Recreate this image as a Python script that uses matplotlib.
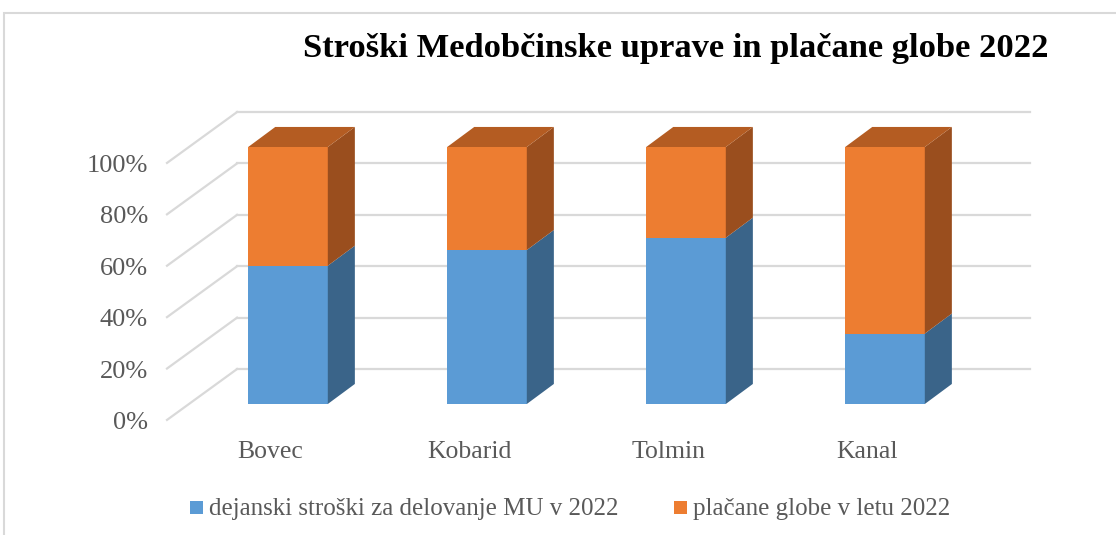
import matplotlib.pyplot as plt
from matplotlib.patches import Polygon, Rectangle

# data (share of total, %)
obcine = ['Bovec', 'Kobarid', 'Tolmin', 'Kanal']
stroski_mu = [53.8, 59.9, 64.7, 27.4]
globe = [46.2, 40.1, 35.3, 72.6]
serije = ['dejanski stroški za delovanje MU v 2022', 'plačane globe v letu 2022']
yticks = [0, 20, 40, 60, 80, 100]

plt.rcParams['font.family'] = ['Liberation Serif', 'DejaVu Serif']

barve = {
    'blue': ('#5B9BD5', '#3A6489', '#41719C'),
    'orange': ('#ED7D31', '#9A4E1E', '#B45C22'),
}
grid_col = '#D9D9D9'
txt_col = '#595959'

fig = plt.figure(figsize=(11.16, 5.35), dpi=100)
ax = fig.add_axes([0, 0, 1, 1])
# one category = 199 px, 100 % = 257 px
ax.set_xlim(-288 / 199, (1116 - 288) / 199)
ax.set_ylim(-131 / 2.57, 404 / 2.57)
ax.axis('off')

bw = 0.40          # bar width (category units)
dx, dy = 0.136, 7.8  # bar depth
fx, fy = -0.111, -6.2  # floor front edge offset
wx, wy = 0.241, 13.6   # back wall offset
x_left = -0.497
x_right = 3.729

# walls / gridlines
for v in yticks:
    ax.plot([x_left + fx, x_left + wx], [v + fy, v + wy], color=grid_col, lw=1.6, zorder=1)
    ax.plot([x_left + wx, x_right], [v + wy, v + wy], color=grid_col, lw=1.6, zorder=1)
    ax.text(-0.703, v + fy - 1.2, f'{v}%', ha='right', va='center', fontsize=19, color=txt_col)


def kvader(x0, y0, h, cols, top):
    front, side, roof = cols
    x1 = x0 + bw
    ax.add_patch(Rectangle((x0, y0), bw, h, facecolor=front, edgecolor='none', zorder=3))
    ax.add_patch(Polygon([(x1, y0), (x1 + dx, y0 + dy), (x1 + dx, y0 + h + dy), (x1, y0 + h)],
                         closed=True, facecolor=side, edgecolor='none', zorder=3))
    if top:
        ax.add_patch(Polygon([(x0, y0 + h), (x0 + dx, y0 + h + dy), (x1 + dx, y0 + h + dy), (x1, y0 + h)],
                             closed=True, facecolor=roof, edgecolor='none', zorder=3))


for i, name in enumerate(obcine):
    x0 = i - bw / 2
    kvader(x0, 0, stroski_mu[i], barve['blue'], False)
    kvader(x0, stroski_mu[i], globe[i], barve['orange'], True)
    ax.text(i - 0.09, -18.5, name, ha='center', va='center', fontsize=18.5, color=txt_col)

# frame
fig.patches.append(Rectangle((4 / 1116, -0.1), 1.2, 1 - 13 / 535 + 0.1, transform=fig.transFigure,
                             fill=False, edgecolor='#D9D9D9', lw=1.5))

fig.text(676 / 1116, 1 - 49 / 535, 'Stroški Medobčinske uprave in plačane globe 2022',
         ha='center', va='center', fontsize=24.8, fontweight='bold', color='black')

# legend
leg_y = 1 - 507 / 535
for xs, xt, s, c in [(190, 209, serije[0], barve['blue'][0]), (674, 693, serije[1], barve['orange'][0])]:
    fig.patches.append(Rectangle((xs / 1116, leg_y - 6.5 / 535), 13 / 1116, 13 / 535,
                                 transform=fig.transFigure, facecolor=c, edgecolor='none'))
    fig.text(xt / 1116, leg_y - 1.5 / 535, s, ha='left', va='center', fontsize=18, color=txt_col)

fig.savefig('out.png', dpi=100)
